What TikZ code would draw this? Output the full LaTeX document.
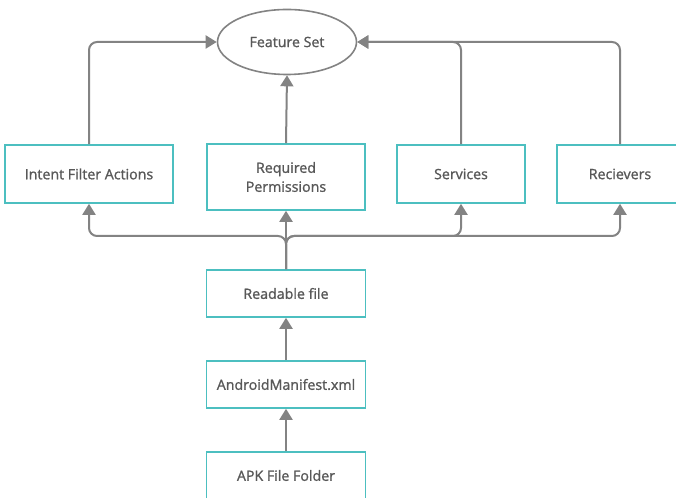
\documentclass[tikz,border=0pt]{standalone}
\usepackage{fontspec}
\setmainfont{Open Sans}
\newfontfamily\labelfont{Open Sans}[FakeBold=1.2]
\usetikzlibrary{arrows.meta, shapes.geometric}

\definecolor{boxteal}{HTML}{4CBFC0}
\definecolor{linegray}{HTML}{838383}
\definecolor{textgray}{HTML}{585858}

\begin{document}
\begin{tikzpicture}[x=1pt, y=1pt,
			every node/.style = {text=textgray, font=\labelfont\fontsize{14.2}{19}\selectfont, align=center},
			box/.style = {shape=rectangle, draw=boxteal, line width=1.6pt, fill=white,
				minimum height=58pt, inner sep=2pt},
			link/.style = {draw=linegray, line width=2pt, rounded corners=8pt,
				-{Triangle[length=11pt, width=13pt]}}]
			\useasboundingbox (0,0) rectangle (676,497);

			% top: the feature set
			\node[ellipse, draw=linegray, line width=1.6pt, minimum width=139pt,
				minimum height=65pt, inner sep=0pt] (fs) at (287,455) {Feature Set};

			% middle row
			\node[box, minimum width=168pt] (intent) at (89,323) {Intent Filter Actions};
			\node[box, minimum width=158pt, minimum height=66pt] (perm) at (286,320) {Required\\ Permissions};
			\node[box, minimum width=128pt] (serv) at (461,323) {Services};
			\node[box, minimum width=126pt] (recv) at (620,323) {Recievers};

			% bottom column
			\node[box, minimum width=159pt, minimum height=47pt] (read) at (286,203.5) {Readable file};
			\node[box, minimum width=159pt, minimum height=47pt] (mani) at (286,112.5) {AndroidManifest.xml};
			\node[box, minimum width=159pt, minimum height=47pt] (apk) at (286,21.5) {APK File Folder};

			\coordinate (bus) at (286,261);

			% row -> feature set
			\draw[link] (intent.north) |- (fs.west);
			\draw[link] (perm.north) -- (fs.south);
			\draw[link] (recv.north) |- (fs.east);
			\draw[link] (serv.north) |- (fs.east);

			% readable file -> row
			\draw[link] (read.north) -- (bus) -| (intent.south);
			\draw[link] (read.north) -- (perm.south);
			\draw[link] (read.north) -- (bus) -| (recv.south);
			\draw[link] (read.north) -- (bus) -| (serv.south);

			% column
			\draw[link] (mani.north) -- (read.south);
			\draw[link] (apk.north) -- (mani.south);
		\end{tikzpicture}
\end{document}
